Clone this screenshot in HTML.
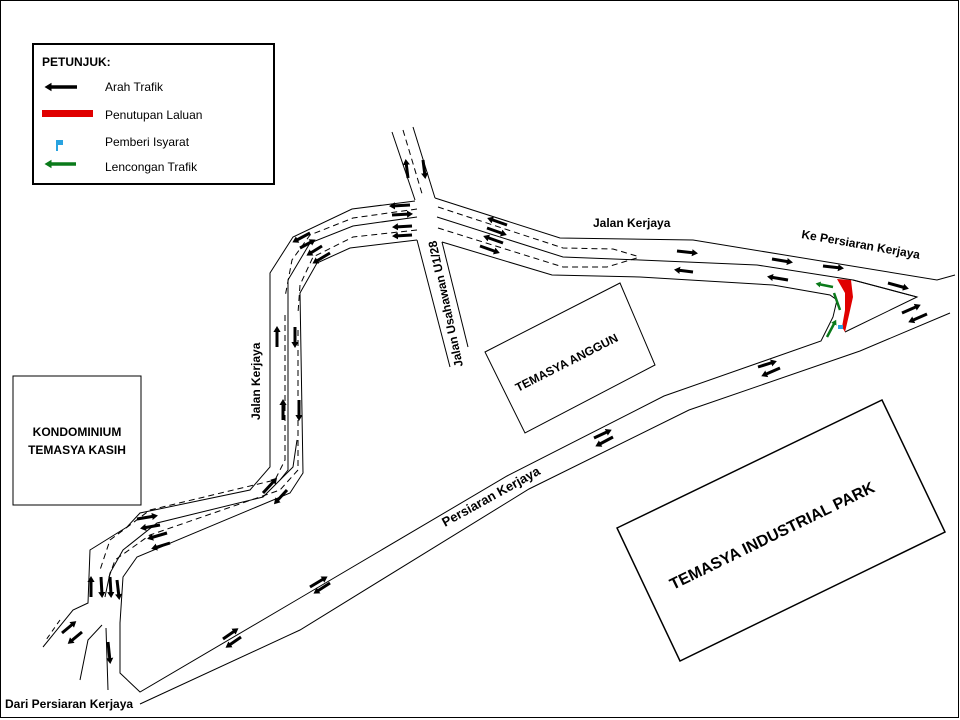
<!DOCTYPE html>
<html><head><meta charset="utf-8"><style>
html,body{margin:0;padding:0;background:#fff;}
svg{display:block;font-family:"Liberation Sans",sans-serif;}
</style></head><body>
<svg width="960" height="720" viewBox="0 0 960 720" xmlns="http://www.w3.org/2000/svg">
<defs>
<marker id="ah" markerWidth="3" markerHeight="3" refX="1" refY="1.5" orient="auto" markerUnits="strokeWidth"><path d="M0,0.3 L2,1.5 L0,2.7 z" fill="#000"/></marker>
<marker id="ag" markerWidth="3" markerHeight="3" refX="1" refY="1.5" orient="auto" markerUnits="strokeWidth"><path d="M0,0.3 L2,1.5 L0,2.7 z" fill="#0a7a1a"/></marker>
</defs>
<rect x="0.5" y="0.5" width="958" height="717" fill="#fff" stroke="#000" stroke-width="1"/>

<g fill="none" stroke="#000" stroke-width="1">
<polyline points="392,132 415,200"/>
<polyline points="413,127 435,198"/>
<polyline points="403,130 423,197" stroke-dasharray="6,4"/>
<polyline points="417,240 450,367"/>
<polyline points="442,242 468,347"/>
<polyline points="415,201 352,209 293,237 270,273 270,467 250,490 140,513 127,527 90,550 88,603 73,610 43,647"/>
<polyline points="417,209 353,218 310,235 292,260 285,297" stroke-dasharray="6,4"/>
<polyline points="417,217 353,226 310,243 288,280 288,470 280,480" />
<polyline points="417,230 353,237 313,257 300,285 298,313" stroke-dasharray="6,4"/>
<polyline points="417,240 350,248 317,263 300,293 303,473 290,493 137,557 123,577 120,623 120,673 140,692 300,598 507,476 664,396 821,341 833,317 837,300 830,295 773,285 640,277 552,275 442,242"/>
<polyline points="297,440 293,467 263,497 157,523 123,550 110,573 105,597" />
<polyline points="285,315 285,460 275,480 150,510 110,540 100,570" stroke-dasharray="6,4"/>
<polyline points="298,330 298,470 280,490 150,535 115,560 108,580" stroke-dasharray="6,4"/>
<polyline points="102,625 88,640 80,680"/>
<polyline points="106,628 108,690" />
<polyline points="60,620 46,640" stroke-dasharray="5,4"/>
<polyline points="140,704 300,630 529,489 689,410 860,351 950,313"/>
<polyline points="435,198 560,238 693,240 937,280 955,275"/>
<polyline points="438,207 563,248 613,249 640,257" stroke-dasharray="6,4"/>
<polyline points="437,217 563,257 640,260 757,265 853,280 917,297"/>
<polyline points="438,228 563,267 607,267 640,257" stroke-dasharray="6,4"/>
<polyline points="845,332 917,297 853,280"/>
<rect x="13" y="376" width="128" height="129"/>
<polygon points="485,352 620,283 655,365 525,433"/>
<polygon points="617,528 882,400 945,532 680,661" stroke-width="1.5"/>
</g>

<polygon points="837,279 851,280 853,297 849,315 845,332 842,327 845,310 845,293" fill="#e00000"/>
<rect x="838" y="325" width="5" height="4" fill="#29a3e0"/>
<g stroke="#0a7a1a" stroke-width="2.5" fill="none">
<line x1="833" y1="287" x2="818" y2="284" marker-end="url(#ag)"/>
<line x1="834" y1="293" x2="840" y2="310"/>
<line x1="827" y1="337" x2="835" y2="322" marker-end="url(#ag)"/>
</g>

<g stroke="#000" stroke-width="3" fill="none" marker-end="url(#ah)">
<line x1="408" y1="178" x2="406" y2="162"/><line x1="423" y1="160" x2="425" y2="176"/>
<line x1="410" y1="205" x2="392" y2="206"/><line x1="392" y1="215" x2="410" y2="214"/>
<line x1="412" y1="226" x2="395" y2="227"/><line x1="412" y1="235" x2="395" y2="236"/>
<line x1="310" y1="233" x2="295" y2="241"/><line x1="300" y1="248" x2="313" y2="241"/>
<line x1="322" y1="246" x2="309" y2="254"/><line x1="330" y1="253" x2="315" y2="262"/>
<line x1="507" y1="225" x2="490" y2="219"/><line x1="487" y1="228" x2="504" y2="234"/>
<line x1="503" y1="243" x2="486" y2="237"/><line x1="480" y1="246" x2="497" y2="252"/>
<line x1="277" y1="347" x2="277" y2="329"/><line x1="295" y1="327" x2="295" y2="345"/>
<line x1="283" y1="420" x2="283" y2="402"/><line x1="299" y1="400" x2="299" y2="418"/>
<line x1="263" y1="493" x2="275" y2="480"/><line x1="287" y1="490" x2="276" y2="502"/>
<line x1="137" y1="519" x2="155" y2="516"/><line x1="160" y1="525" x2="143" y2="528"/>
<line x1="167" y1="533" x2="150" y2="538"/><line x1="170" y1="543" x2="154" y2="548"/>
<line x1="91" y1="597" x2="91" y2="579"/><line x1="101" y1="577" x2="102" y2="595"/>
<line x1="110" y1="577" x2="111" y2="595"/><line x1="117" y1="580" x2="119" y2="597"/>
<line x1="62" y1="633" x2="74" y2="623"/><line x1="82" y1="632" x2="70" y2="642"/>
<line x1="108" y1="642" x2="110" y2="661"/>
<line x1="223" y1="639" x2="236" y2="630"/><line x1="241" y1="637" x2="228" y2="646"/>
<line x1="310" y1="587" x2="325" y2="578"/><line x1="330" y1="583" x2="316" y2="592"/>
<line x1="594" y1="438" x2="609" y2="431"/><line x1="613" y1="437" x2="598" y2="445"/>
<line x1="758" y1="367" x2="774" y2="362"/><line x1="780" y1="368" x2="764" y2="375"/>
<line x1="902" y1="313" x2="918" y2="306"/><line x1="927" y1="314" x2="911" y2="321"/>
<line x1="677" y1="251" x2="695" y2="253"/><line x1="772" y1="259" x2="790" y2="262"/>
<line x1="823" y1="266" x2="841" y2="268"/><line x1="888" y1="283" x2="906" y2="288"/>
<line x1="693" y1="272" x2="677" y2="270"/><line x1="788" y1="280" x2="770" y2="277"/>
</g>

<rect x="33" y="44" width="241" height="140" fill="#fff" stroke="#000" stroke-width="2"/>
<text x="42" y="66" font-size="12" font-weight="bold">PETUNJUK:</text>
<line x1="77" y1="87" x2="48" y2="87" stroke="#000" stroke-width="3.5" marker-end="url(#ah)"/>
<text x="105" y="91" font-size="12">Arah Trafik</text>
<rect x="42" y="110" width="51" height="7" fill="#e00000"/>
<text x="105" y="119" font-size="12">Penutupan  Laluan</text>
<path d="M56,140 h7 v5 h-5 v6 h-2 z" fill="#29a3e0"/>
<text x="105" y="146" font-size="12">Pemberi  Isyarat</text>
<line x1="76" y1="164" x2="48" y2="164" stroke="#0a7a1a" stroke-width="3.5" marker-end="url(#ag)"/>
<text x="105" y="171" font-size="12">Lencongan Trafik</text>

<g font-weight="bold" font-size="12">
<text x="593" y="227">Jalan Kerjaya</text>
<text transform="translate(801,238) rotate(10)">Ke Persiaran Kerjaya</text>
<text transform="translate(463,366) rotate(-102)">Jalan Usahawan U1/28</text>
<text transform="translate(260,420) rotate(-90)">Jalan Kerjaya</text>
<text transform="translate(445,527) rotate(-29)" font-size="13">Persiaran Kerjaya</text>
<text transform="translate(518,392) rotate(-27)">TEMASYA ANGGUN</text>
<text x="77" y="436" text-anchor="middle">KONDOMINIUM</text>
<text x="77" y="454" text-anchor="middle">TEMASYA KASIH</text>
<text x="5" y="708">Dari Persiaran Kerjaya</text>
<text transform="translate(673,590) rotate(-26)" font-size="16">TEMASYA INDUSTRIAL PARK</text>
</g>
</svg>
</body></html>
